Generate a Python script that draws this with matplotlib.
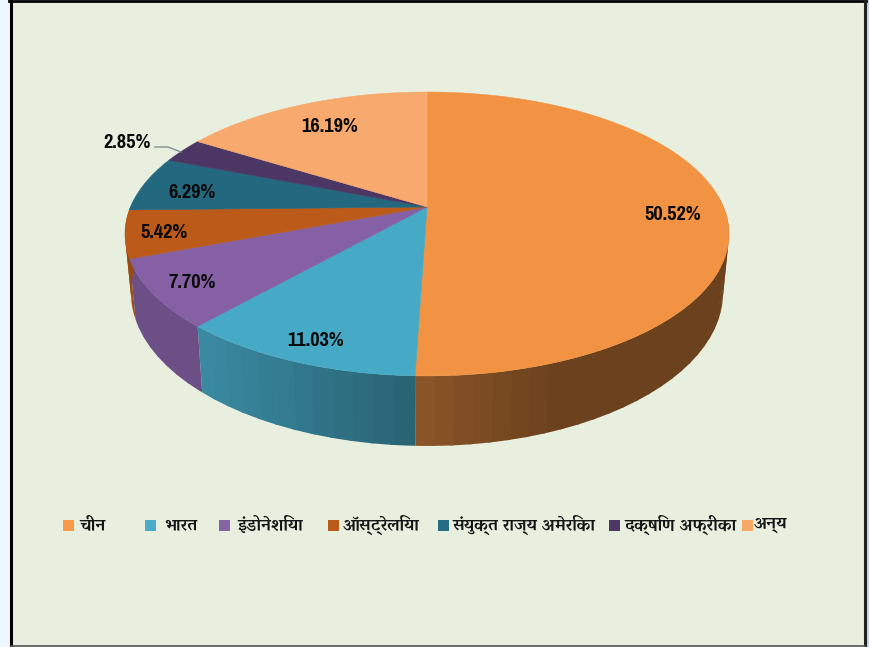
import numpy as np
import matplotlib
matplotlib.use("Agg")
import matplotlib.pyplot as plt
from matplotlib.patches import Rectangle

labels = ["चीन", "भारत", "इंडोनेशिया", "ऑस्ट्रेलिया", "संयुक्त राज्य अमेरिका", "दक्षिण अफ्रीका", "अन्य"]
values = [50.52, 11.03, 7.70, 5.42, 6.29, 2.85, 16.19]
colors = ["#f19343", "#46a9c5", "#8560a5", "#bc5a1a", "#24687f", "#4c3663", "#f7a96e"]
swatch_colors = ["#f9994a", "#4bacc9", "#8464a3", "#b85a18", "#256c84", "#4b3863", "#f8a96a"]

# label centres in pixels
label_xy = [(673, 215), (316, 341), (192, 283), (164, 232), (192, 192), (127, 143), (330, 126)]
swatch_x = [63, 145, 219, 328, 438, 609, 742]
text_x = [79, 164, 237, 343, 453, 624, 754]

# pie projection, fitted to the picture
cx, cy = 427, 207
R, k, c = 296.5, 0.19, -97.5
depth = 56.7
shrink = 0.98


def project(theta):
    u, v = np.sin(theta), np.cos(theta)
    w = 1 + k * v
    return cx + R * u / w, (cy + c * v) / w


def project_low(theta):
    x, y = project(theta)
    w = 1 + k * np.cos(theta)
    return cx + (x - cx) * shrink, y + depth / w


def shade(x):
    return np.interp(x, [124, 200, 415, 550, 729], [0.82, 0.82, 0.58, 0.45, 0.45])


fig = plt.figure(figsize=(8.69, 6.47), dpi=100, facecolor="#eef6ff")
ax = fig.add_axes([0, 0, 1, 1])
ax.set_xlim(0, 869)
ax.set_ylim(647, 0)
ax.axis("off")

# panel and frame
ax.add_patch(Rectangle((865, 0), 4, 647, fc="#b8dcf0", ec="none"))
ax.add_patch(Rectangle((11, 1), 854, 645, fc="#e9efdf", ec="none", zorder=1))
ax.plot([11, 11], [0, 647], color="black", lw=2.2, zorder=2)
ax.plot([9, 866], [1, 1], color="black", lw=2, zorder=2)
ax.plot([864.5, 864.5], [0, 647], color="#222222", lw=2.2, zorder=2)
ax.plot([11, 865], [645.5, 645.5], color="#555555", lw=1.2, zorder=2)

edges = np.radians(np.cumsum([0] + values) * 3.6)

# side wall in overlapping strips, only the part facing the viewer
for i in range(len(values)):
    t = np.linspace(edges[i], edges[i + 1], max(int(values[i] * 1.2), 3))
    for a, b in zip(t[:-1], t[1:]):
        if np.cos((a + b) / 2) > 0.05:
            continue
        arc = np.linspace(a, min(b + 0.012, edges[i + 1]), 12)
        x0, y0 = project(arc)
        x1, y1 = project_low(arc[::-1])
        mid = project((a + b) / 2)[0]
        rgb = np.array(matplotlib.colors.to_rgb(colors[i])) * shade(mid)
        ax.fill(np.r_[x0, x1], np.r_[y0, y1], color=rgb, lw=0, zorder=3)

# top face
for i in range(len(values)):
    t = np.linspace(edges[i], edges[i + 1], 120)
    x, y = project(t)
    ax.fill(np.r_[cx, x], np.r_[cy, y], color=colors[i], lw=0.4, zorder=4)

narrow = ["Pragati Narrow", "Liberation Sans", "DejaVu Sans"]
for v, (x, y) in zip(values, label_xy):
    ax.text(x, y, f"{v:.2f}%", ha="center", va="center", fontsize=16, fontweight="bold",
            family=narrow, color="#0a0a0a", zorder=6)

# leader line for the small slice
ax.plot([155, 168, 181], [147, 147, 152], color="#7f9191", lw=1, zorder=5)

for name, col, sx, tx in zip(labels, swatch_colors, swatch_x, text_x):
    ax.add_patch(Rectangle((sx, 520), 11, 11, fc=col, ec="none", zorder=5))
    ax.text(tx, 525, name, ha="left", va="center", fontsize=12.4, fontweight="bold",
            family=["Vesper Libre", "Noto Serif Devanagari", "DejaVu Sans"],
            color="#151515", zorder=6)

plt.savefig("out.png", dpi=100, facecolor=fig.get_facecolor())
